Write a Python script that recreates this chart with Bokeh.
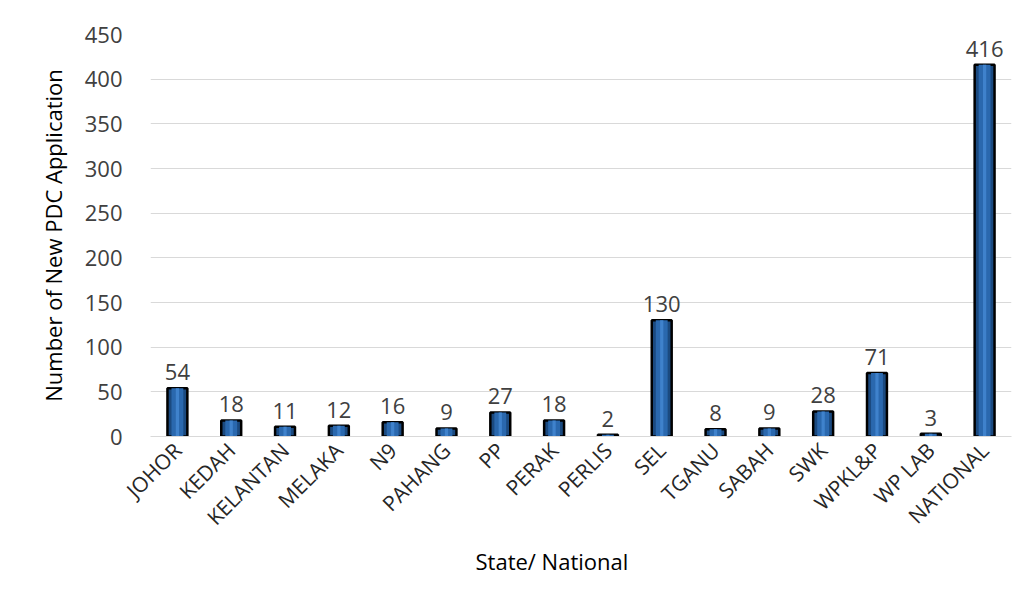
from bokeh.plotting import figure
from bokeh.models import ColumnDataSource, Title, FixedTicker, LabelSet
from bokeh.core.properties import value
from bokeh.embed import file_html
from bokeh.resources import INLINE
from math import pi

states = ["JOHOR", "KEDAH", "KELANTAN", "MELAKA", "N9", "PAHANG", "PP", "PERAK",
          "PERLIS", "SEL", "TGANU", "SABAH", "SWK", "WPKL&P", "WP LAB", "NATIONAL"]
applications = [54, 18, 11, 12, 16, 9, 27, 18, 2, 130, 8, 9, 28, 71, 3, 416]
y_ticks = [0, 50, 100, 150, 200, 250, 300, 350, 400, 450]

FONT = "Open Sans"
TXT = "#404040"

src = ColumnDataSource(dict(state=states, n=applications,
                            label=[str(v) for v in applications]))

p = figure(x_range=states, y_range=(0, 450), width=1014, height=575,
           output_backend="svg", toolbar_location=None,
           min_border_left=150, min_border_right=3, min_border_top=34,
           min_border_bottom=132)

# bars: black outline, dark edges, lighter core
p.vbar(x="state", top="n", width=0.37, source=src, fill_color="#1b4a80",
       line_color="black", line_width=2.5)
p.vbar(x="state", top="n", width=0.22, source=src, fill_color="#2a68ae",
       line_color=None)
p.vbar(x="state", top="n", width=0.06, source=src, fill_color="#3f82cc",
       line_color=None)

labels = LabelSet(x="state", y="n", text="label", source=src,
                  text_align="center", text_baseline="bottom", y_offset=8,
                  text_font=value(FONT), text_font_size="22px", text_color=TXT)
p.add_layout(labels)

p.outline_line_color = None
p.background_fill_color = "white"
p.border_fill_color = "white"
p.xgrid.grid_line_color = None
p.ygrid.grid_line_color = "#d9d9d9"
p.ygrid.grid_line_width = 1.2

p.yaxis.ticker = FixedTicker(ticks=y_ticks)
p.yaxis.axis_line_color = None
p.yaxis.major_tick_line_color = None
p.yaxis.minor_tick_line_color = None
p.yaxis.major_label_standoff = 22
p.yaxis.major_label_text_font = FONT
p.yaxis.major_label_text_font_size = "22px"
p.yaxis.major_label_text_color = TXT
p.yaxis.axis_label = "Number of New PDC Application"
p.yaxis.axis_label_text_font = FONT
p.yaxis.axis_label_text_font_size = "22px"
p.yaxis.axis_label_text_font_style = "normal"
p.yaxis.axis_label_text_color = "black"
p.yaxis.axis_label_standoff = 14

p.xaxis.axis_line_color = "#d9d9d9"
p.xaxis.axis_line_width = 1.2
p.xaxis.major_tick_line_color = None
p.xaxis.minor_tick_line_color = None
p.xaxis.major_label_orientation = pi / 4
p.xaxis.major_label_standoff = 4
p.xaxis.major_label_text_font = FONT
p.xaxis.major_label_text_font_size = "21px"
p.xaxis.major_label_text_color = "#262626"

p.add_layout(Title(text="State/ National", align="left", offset=325,
                   text_font=FONT, text_font_size="22px",
                   text_font_style="normal", text_color="black", standoff=0),
             "below")

open("out.html", "w").write(file_html(p, INLINE))
